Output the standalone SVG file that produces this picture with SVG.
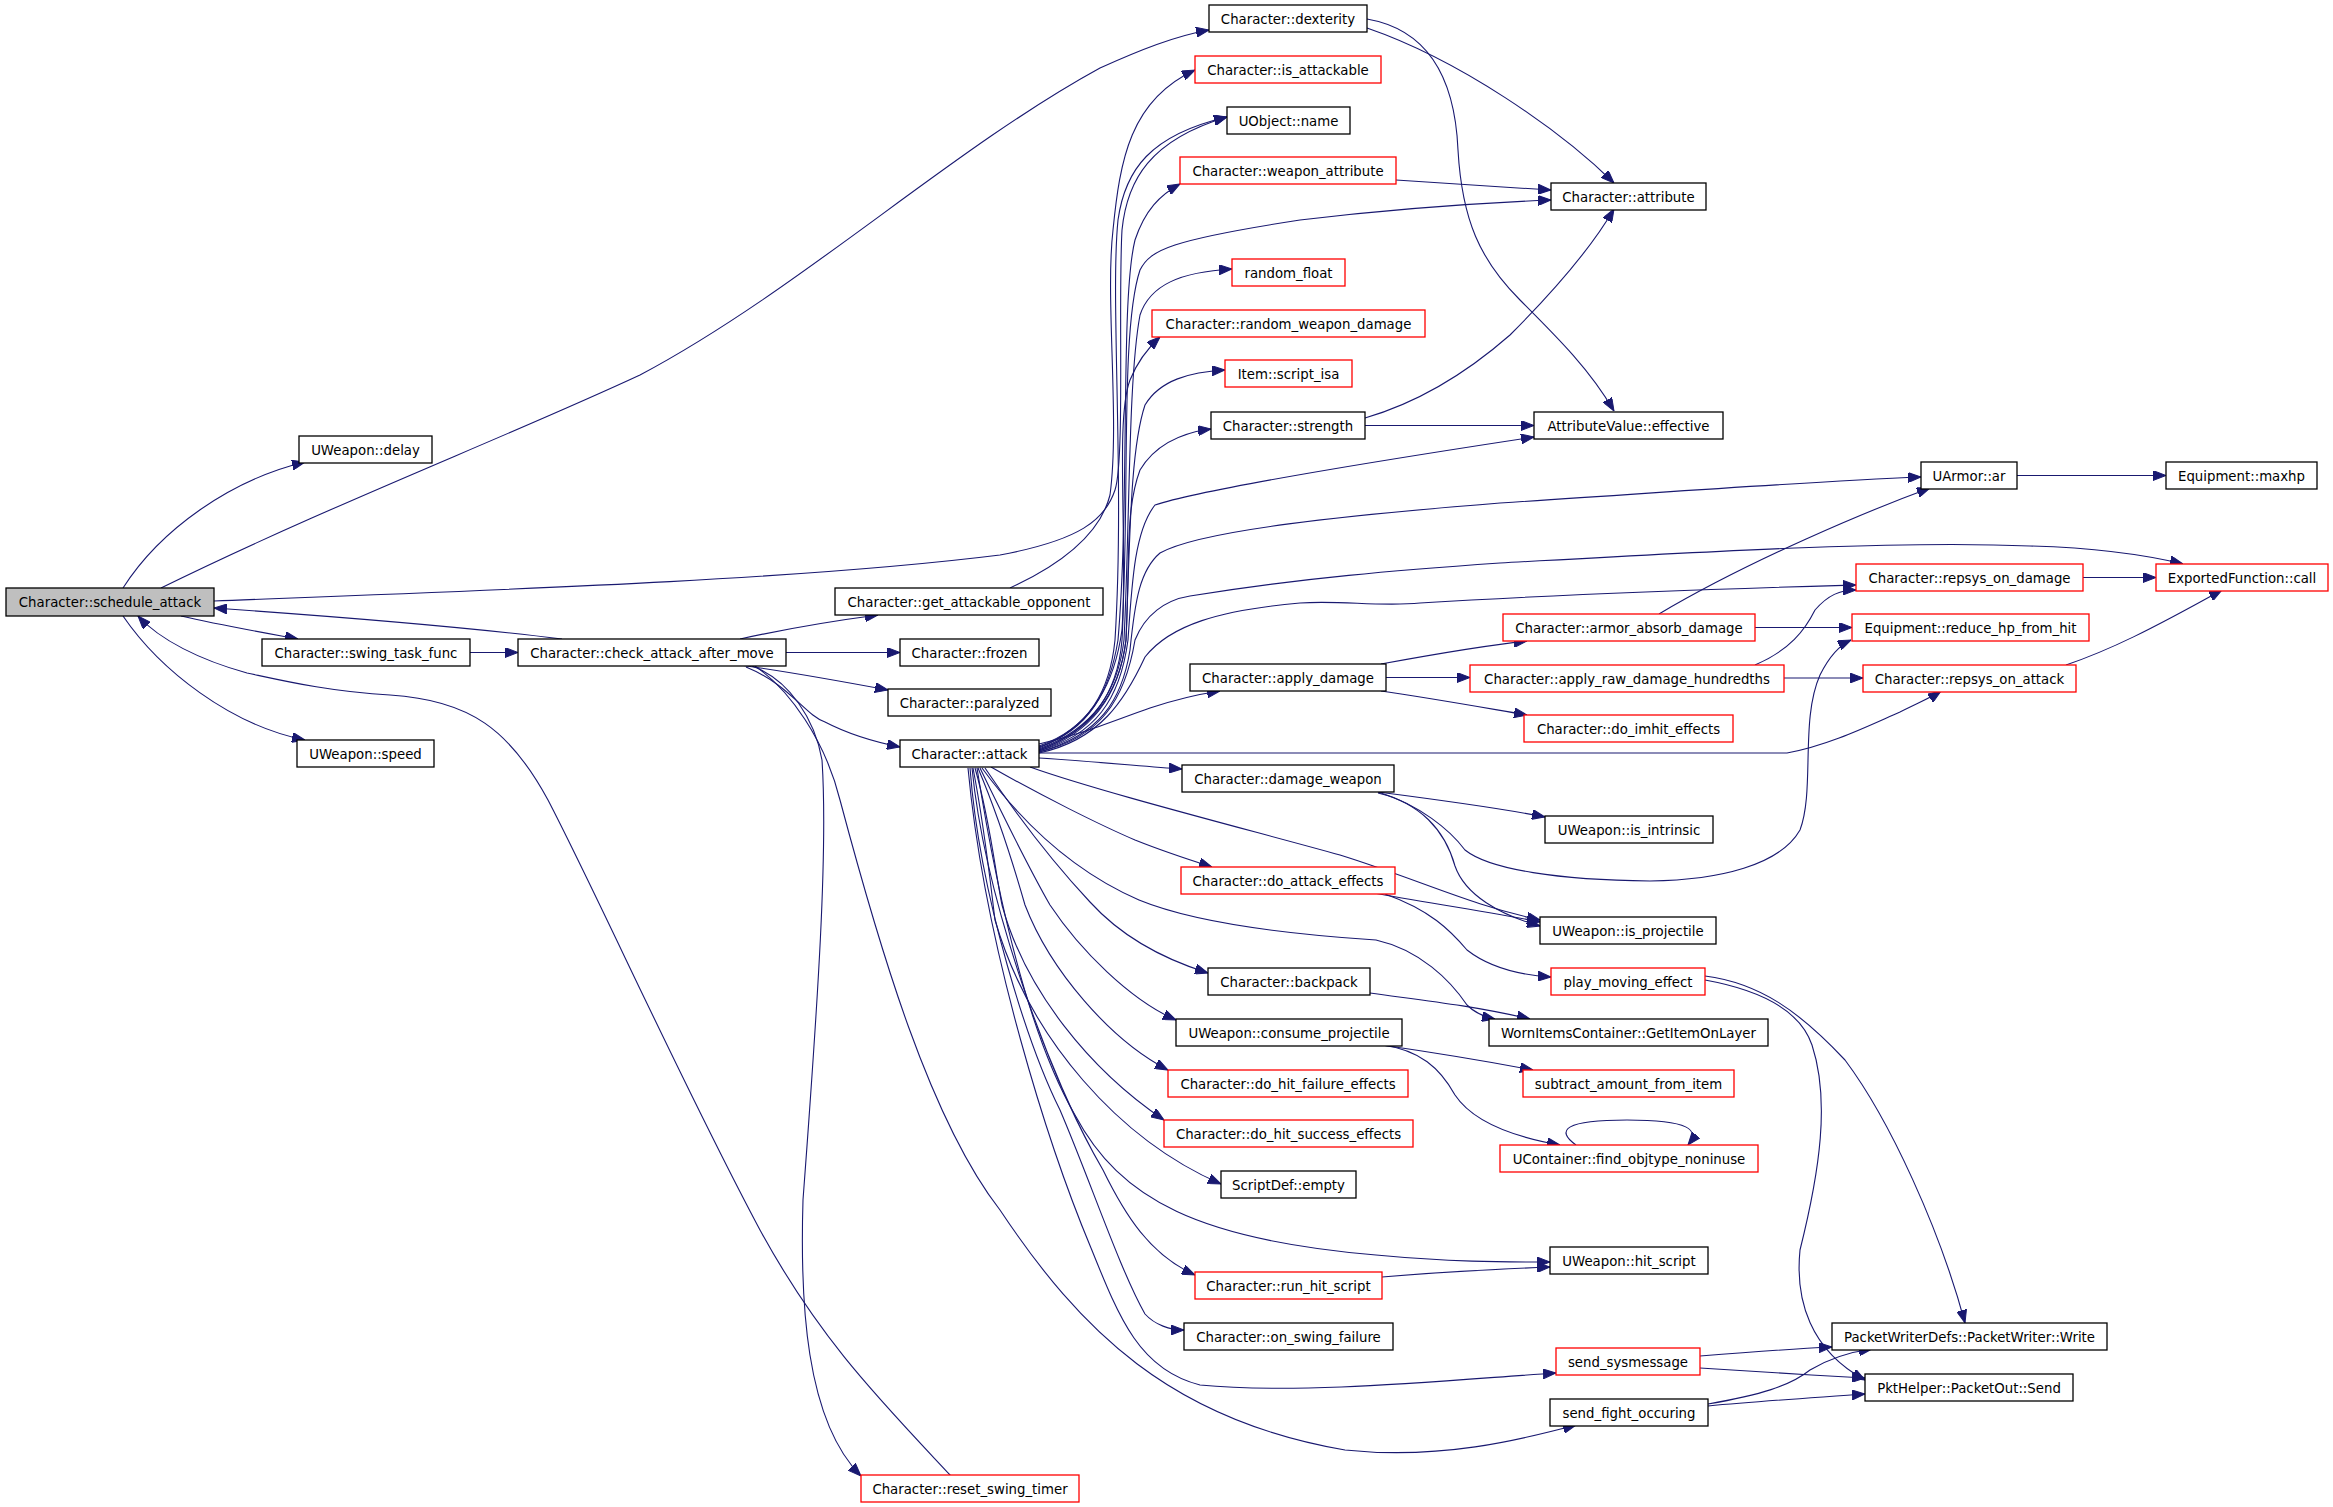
<svg xmlns="http://www.w3.org/2000/svg" width="2333" height="1507" viewBox="0 0 2333 1507">
<defs>
<marker id="ah" markerWidth="13" markerHeight="10" refX="13" refY="5" orient="auto" markerUnits="userSpaceOnUse"><path d="M0,0 L13,5 L0,10 z" fill="#191970" stroke="#191970" stroke-width="1"/></marker>
<style>
.n rect{fill:#ffffff;stroke:#000000;stroke-width:1.3}
.r rect{fill:#ffffff;stroke:#ff0000;stroke-width:1.3}
.g rect{fill:#bfbfbf;stroke:#000000;stroke-width:1.3}
text{font-family:"DejaVu Sans","Liberation Sans",sans-serif;font-size:13.3px;fill:#000000;text-anchor:middle}
#edges path{fill:none;stroke:#191970;stroke-width:1.1;marker-end:url(#ah)}
</style>
</defs>
<rect width="2333" height="1507" fill="#ffffff"/>
<g id="edges">
<path d="M123,588 C160,530 230,480 305,462"/>
<path d="M161,588 C330,505 500,440 640,375 C800,290 950,150 1100,68 C1140,50 1175,36 1209,30"/>
<path d="M181,616 C220,625 260,632 298,639"/>
<path d="M123,616 C160,670 230,725 305,740"/>
<path d="M470,652.5 L518,652.5"/>
<path d="M562,639 C450,625 300,614 214,608"/>
<path d="M214,601 C500,590 800,580 1000,555 C1080,540 1105,520 1115,490 C1125,460 1118,300 1122,230 C1127,180 1150,140 1227,117"/>
<path d="M1010,588 C1060,565 1100,535 1110,495 C1120,420 1105,300 1113,230 C1120,160 1130,100 1195,70"/>
<path d="M740,639 C790,628 840,620 878,615"/>
<path d="M786,652.5 L900,652.5"/>
<path d="M740,665 C790,672 840,681 888,690"/>
<path d="M746,667 C790,685 805,715 825,722 C850,735 875,742 900,747"/>
<path d="M752,666 C790,680 815,720 822,760 C828,850 818,1000 803,1200 C800,1300 805,1420 861,1476"/>
<path d="M755,666 C790,690 825,740 840,800 C880,950 930,1120 1000,1210 C1080,1330 1170,1420 1345,1450 C1440,1460 1520,1440 1576,1425"/>
<path d="M951,1476 C880,1400 820,1340 760,1230 C680,1080 600,900 548,800 C510,730 470,700 390,695 C330,692 280,680 247,673 C200,660 160,640 138,616"/>
<path d="M1039,746 C1090,728 1110,690 1115,640 C1125,480 1110,300 1118,220 C1125,170 1150,135 1227,117"/>
<path d="M1039,747 C1090,730 1110,690 1118,640 C1130,500 1120,300 1135,240 C1145,210 1160,195 1180,184"/>
<path d="M1039,748 C1095,725 1115,680 1122,630 C1130,500 1120,330 1140,270 C1150,250 1170,240 1300,220 C1400,208 1480,203 1551,200"/>
<path d="M1039,749 C1095,728 1118,690 1124,640 C1130,520 1128,380 1140,315 C1150,285 1180,272 1232,269"/>
<path d="M1039,750 C1095,730 1118,690 1122,640 C1128,540 1115,420 1130,380 C1138,360 1148,348 1160,337"/>
<path d="M1039,750 C1095,730 1120,690 1126,640 C1130,540 1130,450 1145,405 C1160,380 1190,372 1225,370"/>
<path d="M1039,751 C1095,732 1120,690 1126,640 C1130,560 1125,510 1140,470 C1155,445 1180,433 1211,429"/>
<path d="M1039,751 C1095,735 1120,700 1128,640 C1132,580 1135,530 1155,505 C1200,490 1350,465 1534,437"/>
<path d="M1039,752 C1100,735 1122,700 1130,650 C1135,600 1140,570 1160,553 C1200,530 1350,515 1500,503 C1700,490 1800,482 1921,477"/>
<path d="M1039,752 C1100,738 1125,700 1135,640 C1145,615 1165,600 1190,596 C1300,578 1400,570 1500,563 C1700,552 1900,540 2030,546 C2100,548 2150,556 2183,564"/>
<path d="M1039,753 C1100,740 1125,700 1145,657 C1170,625 1220,610 1300,603 C1340,600 1380,607 1420,603 C1600,592 1750,588 1856,585"/>
<path d="M1039,744 C1080,735 1110,722 1150,708 C1180,698 1200,694 1220,691"/>
<path d="M1039,753 L1787,753 C1830,745 1870,725 1900,712 C1920,702 1932,697 1941,691"/>
<path d="M1039,758 C1100,762 1140,766 1182,769"/>
<path d="M1030,767 C1100,792 1250,830 1340,855 C1420,880 1470,905 1540,920"/>
<path d="M982,768 C1020,820 1070,870 1139,900 C1200,925 1300,935 1376,940 C1420,950 1450,980 1467,1005 C1475,1013 1485,1017 1495,1019"/>
<path d="M991,767 C1040,795 1100,825 1135,840 C1165,852 1190,860 1212,867"/>
<path d="M985,768 C1020,820 1060,870 1090,902 C1120,935 1160,958 1208,973"/>
<path d="M980,768 C1010,830 1030,870 1050,905 C1080,950 1130,1000 1176,1020"/>
<path d="M978,768 C1000,820 1015,870 1025,905 C1050,970 1110,1040 1168,1070"/>
<path d="M975,768 C990,820 995,870 1002,905 C1025,990 1090,1070 1164,1120"/>
<path d="M973,768 C985,830 990,880 995,920 C1030,1040 1120,1140 1221,1184"/>
<path d="M977,768 C990,850 1020,1020 1075,1115 C1120,1200 1200,1240 1376,1255 C1450,1262 1500,1262 1550,1262"/>
<path d="M972,768 C985,900 1050,1080 1103,1170 C1125,1215 1150,1255 1195,1275"/>
<path d="M970,768 C980,900 1030,1050 1060,1110 C1090,1180 1120,1270 1145,1314 C1155,1325 1170,1330 1184,1330"/>
<path d="M968,768 C985,950 1050,1150 1091,1248 C1120,1320 1140,1370 1200,1385 C1300,1395 1450,1380 1556,1373"/>
<path d="M1381,664 C1430,655 1480,646 1527,641"/>
<path d="M1386,677.5 L1470,677.5"/>
<path d="M1381,691 C1430,698 1480,707 1527,715"/>
<path d="M1659,614 C1750,560 1870,510 1930,488"/>
<path d="M1755,627.5 L1852,627.5"/>
<path d="M1755,665 C1790,650 1805,630 1815,610 C1828,595 1840,590 1856,590"/>
<path d="M1784,678 L1863,678"/>
<path d="M2083,577.5 L2156,577.5"/>
<path d="M2066,665 C2110,650 2150,630 2222,590"/>
<path d="M2017,475.5 L2166,475.5"/>
<path d="M1367,28 C1460,60 1560,130 1614,183"/>
<path d="M1367,19 C1430,30 1455,80 1458,150 C1462,220 1480,260 1520,300 C1560,340 1590,370 1614,411"/>
<path d="M1396,180 C1450,183 1500,187 1551,190"/>
<path d="M1365,418 C1420,402 1470,370 1510,335 C1550,295 1590,250 1614,209"/>
<path d="M1365,425.5 L1534,425.5"/>
<path d="M1378,792 C1440,800 1500,808 1545,817"/>
<path d="M1378,792 C1420,805 1450,830 1465,850 C1490,870 1560,880 1650,881 C1720,880 1780,865 1800,830 C1815,790 1800,720 1820,675 C1830,655 1840,645 1851,640"/>
<path d="M1378,793 C1420,803 1445,830 1455,866 C1465,895 1500,915 1540,926"/>
<path d="M1374,893 C1420,902 1480,910 1540,922"/>
<path d="M1385,894 C1430,910 1450,930 1467,950 C1490,968 1520,975 1551,977"/>
<path d="M1370,993 C1420,1000 1470,1005 1530,1019"/>
<path d="M1382,1045 C1430,1052 1480,1060 1533,1070"/>
<path d="M1382,1045 C1420,1050 1440,1068 1455,1095 C1475,1125 1520,1138 1560,1145"/>
<path d="M1576,1145 C1555,1130 1565,1120 1627,1120 C1690,1120 1700,1130 1688,1145"/>
<path d="M1382,1277 C1440,1272 1500,1269 1550,1267"/>
<path d="M1705,976 C1760,983 1800,1012 1845,1060 C1890,1120 1940,1230 1965,1323"/>
<path d="M1705,980 C1760,990 1800,1010 1812,1045 C1830,1100 1820,1170 1800,1250 C1795,1300 1810,1350 1865,1380"/>
<path d="M1700,1356 C1750,1352 1790,1349 1832,1347"/>
<path d="M1700,1368 C1760,1372 1810,1375 1865,1378"/>
<path d="M1708,1404 C1760,1395 1790,1386 1810,1370 C1830,1358 1850,1352 1872,1349"/>
<path d="M1708,1406 C1760,1401 1810,1398 1865,1394"/>
</g>
<g id="n_schedule_attack" class="g"><rect x="6" y="588" width="208" height="28"/><text x="110" y="607">Character::schedule_attack</text></g>
<g id="n_delay" class="n"><rect x="299" y="436" width="133" height="27"/><text x="365.5" y="454.5">UWeapon::delay</text></g>
<g id="n_swing_task_func" class="n"><rect x="262" y="639" width="208" height="27"/><text x="366" y="657.5">Character::swing_task_func</text></g>
<g id="n_check_attack_after_move" class="n"><rect x="518" y="639" width="268" height="27"/><text x="652" y="657.5">Character::check_attack_after_move</text></g>
<g id="n_speed" class="n"><rect x="297" y="740" width="137" height="27"/><text x="365.5" y="758.5">UWeapon::speed</text></g>
<g id="n_dexterity" class="n"><rect x="1209" y="5" width="158" height="27"/><text x="1288" y="23.5">Character::dexterity</text></g>
<g id="n_is_attackable" class="r"><rect x="1195" y="56" width="186" height="27"/><text x="1288" y="74.5">Character::is_attackable</text></g>
<g id="n_name" class="n"><rect x="1227" y="107" width="123" height="27"/><text x="1288.5" y="125.5">UObject::name</text></g>
<g id="n_weapon_attribute" class="r"><rect x="1180" y="157" width="216" height="27"/><text x="1288" y="175.5">Character::weapon_attribute</text></g>
<g id="n_attribute" class="n"><rect x="1551" y="183" width="155" height="27"/><text x="1628.5" y="201.5">Character::attribute</text></g>
<g id="n_random_float" class="r"><rect x="1232" y="259" width="113" height="27"/><text x="1288.5" y="277.5">random_float</text></g>
<g id="n_random_weapon_damage" class="r"><rect x="1152" y="310" width="273" height="27"/><text x="1288.5" y="328.5">Character::random_weapon_damage</text></g>
<g id="n_script_isa" class="r"><rect x="1225" y="360" width="127" height="27"/><text x="1288.5" y="378.5">Item::script_isa</text></g>
<g id="n_strength" class="n"><rect x="1211" y="412" width="154" height="27"/><text x="1288" y="430.5">Character::strength</text></g>
<g id="n_effective" class="n"><rect x="1534" y="412" width="189" height="27"/><text x="1628.5" y="430.5">AttributeValue::effective</text></g>
<g id="n_ar" class="n"><rect x="1921" y="462" width="96" height="27"/><text x="1969" y="480.5">UArmor::ar</text></g>
<g id="n_maxhp" class="n"><rect x="2166" y="462" width="151" height="27"/><text x="2241.5" y="480.5">Equipment::maxhp</text></g>
<g id="n_get_attackable_opponent" class="n"><rect x="835" y="588" width="268" height="27"/><text x="969" y="606.5">Character::get_attackable_opponent</text></g>
<g id="n_repsys_on_damage" class="r"><rect x="1856" y="564" width="227" height="27"/><text x="1969.5" y="582.5">Character::repsys_on_damage</text></g>
<g id="n_call" class="r"><rect x="2156" y="564" width="172" height="27"/><text x="2242" y="582.5">ExportedFunction::call</text></g>
<g id="n_armor_absorb_damage" class="r"><rect x="1503" y="614" width="252" height="27"/><text x="1629" y="632.5">Character::armor_absorb_damage</text></g>
<g id="n_reduce_hp_from_hit" class="r"><rect x="1852" y="614" width="237" height="27"/><text x="1970.5" y="632.5">Equipment::reduce_hp_from_hit</text></g>
<g id="n_frozen" class="n"><rect x="900" y="639" width="139" height="27"/><text x="969.5" y="657.5">Character::frozen</text></g>
<g id="n_apply_damage" class="n"><rect x="1190" y="664" width="196" height="27"/><text x="1288" y="682.5">Character::apply_damage</text></g>
<g id="n_apply_raw_damage_hundredths" class="r"><rect x="1470" y="665" width="314" height="27"/><text x="1627" y="683.5">Character::apply_raw_damage_hundredths</text></g>
<g id="n_repsys_on_attack" class="r"><rect x="1863" y="665" width="213" height="27"/><text x="1969.5" y="683.5">Character::repsys_on_attack</text></g>
<g id="n_paralyzed" class="n"><rect x="888" y="689" width="163" height="27"/><text x="969.5" y="707.5">Character::paralyzed</text></g>
<g id="n_do_imhit_effects" class="r"><rect x="1524" y="715" width="209" height="27"/><text x="1628.5" y="733.5">Character::do_imhit_effects</text></g>
<g id="n_attack" class="n"><rect x="900" y="740" width="139" height="27"/><text x="969.5" y="758.5">Character::attack</text></g>
<g id="n_damage_weapon" class="n"><rect x="1182" y="765" width="212" height="27"/><text x="1288" y="783.5">Character::damage_weapon</text></g>
<g id="n_is_intrinsic" class="n"><rect x="1545" y="816" width="168" height="27"/><text x="1629" y="834.5">UWeapon::is_intrinsic</text></g>
<g id="n_do_attack_effects" class="r"><rect x="1181" y="867" width="214" height="27"/><text x="1288" y="885.5">Character::do_attack_effects</text></g>
<g id="n_is_projectile" class="n"><rect x="1540" y="917" width="176" height="27"/><text x="1628" y="935.5">UWeapon::is_projectile</text></g>
<g id="n_backpack" class="n"><rect x="1208" y="968" width="162" height="27"/><text x="1289" y="986.5">Character::backpack</text></g>
<g id="n_play_moving_effect" class="r"><rect x="1551" y="968" width="154" height="27"/><text x="1628" y="986.5">play_moving_effect</text></g>
<g id="n_consume_projectile" class="n"><rect x="1176" y="1019" width="226" height="27"/><text x="1289" y="1037.5">UWeapon::consume_projectile</text></g>
<g id="n_GetItemOnLayer" class="n"><rect x="1489" y="1019" width="279" height="27"/><text x="1628.5" y="1037.5">WornItemsContainer::GetItemOnLayer</text></g>
<g id="n_do_hit_failure_effects" class="r"><rect x="1168" y="1070" width="240" height="27"/><text x="1288" y="1088.5">Character::do_hit_failure_effects</text></g>
<g id="n_subtract_amount_from_item" class="r"><rect x="1523" y="1070" width="211" height="27"/><text x="1628.5" y="1088.5">subtract_amount_from_item</text></g>
<g id="n_do_hit_success_effects" class="r"><rect x="1164" y="1120" width="249" height="27"/><text x="1288.5" y="1138.5">Character::do_hit_success_effects</text></g>
<g id="n_find_objtype_noninuse" class="r"><rect x="1500" y="1145" width="258" height="27"/><text x="1629" y="1163.5">UContainer::find_objtype_noninuse</text></g>
<g id="n_empty" class="n"><rect x="1221" y="1171" width="135" height="27"/><text x="1288.5" y="1189.5">ScriptDef::empty</text></g>
<g id="n_hit_script" class="n"><rect x="1550" y="1247" width="158" height="27"/><text x="1629" y="1265.5">UWeapon::hit_script</text></g>
<g id="n_run_hit_script" class="r"><rect x="1195" y="1272" width="187" height="27"/><text x="1288.5" y="1290.5">Character::run_hit_script</text></g>
<g id="n_on_swing_failure" class="n"><rect x="1184" y="1323" width="209" height="27"/><text x="1288.5" y="1341.5">Character::on_swing_failure</text></g>
<g id="n_Write" class="n"><rect x="1832" y="1323" width="275" height="27"/><text x="1969.5" y="1341.5">PacketWriterDefs::PacketWriter::Write</text></g>
<g id="n_send_sysmessage" class="r"><rect x="1556" y="1348" width="144" height="27"/><text x="1628" y="1366.5">send_sysmessage</text></g>
<g id="n_Send" class="n"><rect x="1865" y="1374" width="208" height="27"/><text x="1969" y="1392.5">PktHelper::PacketOut::Send</text></g>
<g id="n_send_fight_occuring" class="n"><rect x="1550" y="1399" width="158" height="27"/><text x="1629" y="1417.5">send_fight_occuring</text></g>
<g id="n_reset_swing_timer" class="r"><rect x="861" y="1475" width="218" height="27"/><text x="970" y="1493.5">Character::reset_swing_timer</text></g>
</svg>
